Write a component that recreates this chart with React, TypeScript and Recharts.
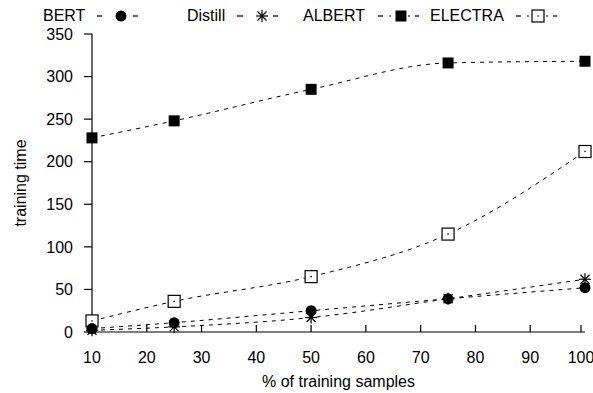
import React from 'react';
import { LineChart, Line, XAxis, YAxis } from 'recharts';

const samples = [10, 25, 50, 75, 100];
const bert = [4, 11, 25, 39, 52];
const distill = [2, 6, 17, 39, 62];
const albert = [228, 248, 285, 316, 318];
const electra = [13, 36, 65, 115, 212];

const xTicks = [10, 20, 30, 40, 50, 60, 70, 80, 90, 100];
const yTicks = [0, 50, 100, 150, 200, 250, 300, 350];

const data = samples.map((s, i) => ({
  pct: s,
  bert: bert[i],
  distill: distill[i],
  albert: albert[i],
  electra: electra[i],
}));

const FONT = '"Liberation Sans", Arial, sans-serif';
const FS = 16;

function Circle({ cx, cy }: any) {
  return <circle cx={cx} cy={cy} r={5.5} fill="#000" />;
}

function Star({ cx, cy }: any) {
  const r = 6;
  return (
    <g stroke="#000" strokeWidth={1.2}>
      <line x1={cx - r} y1={cy} x2={cx + r} y2={cy} />
      <line x1={cx} y1={cy - r} x2={cx} y2={cy + r} />
      <line x1={cx - r * 0.75} y1={cy - r * 0.75} x2={cx + r * 0.75} y2={cy + r * 0.75} />
      <line x1={cx - r * 0.75} y1={cy + r * 0.75} x2={cx + r * 0.75} y2={cy - r * 0.75} />
    </g>
  );
}

function FilledSquare({ cx, cy }: any) {
  return <rect x={cx - 5.5} y={cy - 5.5} width={11} height={11} fill="#000" />;
}

function OpenSquare({ cx, cy }: any) {
  return (
    <g>
      <rect x={cx - 6} y={cy - 6} width={12} height={12} fill="#fff" stroke="#000" strokeWidth={1.2} />
      <circle cx={cx} cy={cy} r={0.8} fill="#000" />
    </g>
  );
}

function XTick({ x, y, payload }: any) {
  return (
    <g>
      <line x1={x} y1={y} x2={x} y2={y - 7} stroke="#000" strokeWidth={1.2} />
      <text x={x} y={y + 31} textAnchor="middle" fontSize={FS} fontFamily={FONT} fill="#000">
        {payload.value}
      </text>
    </g>
  );
}

// short dash segments of the gnuplot-style key sample
function Dashes({ segs, y }: { segs: [number, number][]; y: number }) {
  return (
    <g stroke="#000" strokeWidth={1.2}>
      {segs.map(([a, b], i) => (
        <line key={i} x1={a} y1={y} x2={b} y2={y} />
      ))}
    </g>
  );
}

function ChartLegend() {
  const ty = 21;
  const my = 16;
  return (
    <svg width={593} height={30} style={{ position: 'absolute', left: 0, top: 0 }}>
      <g fontFamily={FONT} fontSize={FS} fill="#000">
        <text x={43} y={ty}>BERT</text>
        <text x={187} y={ty}>Distill</text>
        <text x={303} y={ty}>ALBERT</text>
        <text x={430} y={ty}>ELECTRA</text>
      </g>
      <Dashes y={my} segs={[[97, 102], [133, 138]]} />
      <Circle cx={121} cy={my} />
      <Dashes y={my} segs={[[237, 243], [273, 278]]} />
      <Star cx={262} cy={my} />
      <Dashes y={my} segs={[[378, 383], [389, 391], [408, 410], [415, 419]]} />
      <FilledSquare cx={401} cy={my} />
      <Dashes y={my} segs={[[516, 521], [527, 529], [546, 548], [553, 557]]} />
      <OpenSquare cx={538} cy={my} />
    </svg>
  );
}

export default function App() {
  return (
    <div style={{ position: 'absolute', left: 0, top: 0, width: 593, height: 393, background: '#fff' }}>
      <LineChart width={593} height={393} data={data} margin={{ top: 34, right: 8, left: 0, bottom: 0 }}>
        <XAxis
          dataKey="pct"
          type="number"
          domain={[10, 100]}
          ticks={xTicks}
          tickLine={false}
          tickSize={0}
          tickMargin={0}
          tick={<XTick />}
          axisLine={{ stroke: '#000', strokeWidth: 1.2 }}
          height={61}
          label={{ value: '% of training samples', position: 'insideBottom', offset: 6, fontSize: FS, fontFamily: FONT, fill: '#000' }}
        />
        <XAxis xAxisId="top" orientation="top" dataKey="pct" type="number" domain={[10, 100]} tick={false} tickLine={false} height={0} axisLine={{ stroke: '#000', strokeWidth: 1.2 }} />
        <YAxis
          type="number"
          domain={[0, 350]}
          ticks={yTicks}
          width={92}
          tickSize={8}
          tickMargin={11}
          tickLine={{ stroke: '#000', strokeWidth: 1.2 }}
          axisLine={{ stroke: '#000', strokeWidth: 1.2 }}
          tick={{ fontSize: FS, fontFamily: FONT, fill: '#000' }}
          label={{ value: 'training time', angle: -90, position: 'insideLeft', offset: 20, fontSize: FS, fontFamily: FONT, fill: '#000', style: { textAnchor: 'middle' } }}
        />
        <YAxis yAxisId="right" orientation="right" domain={[0, 350]} tick={false} tickLine={false} width={0} axisLine={{ stroke: '#000', strokeWidth: 1.2 }} />
        <Line type="monotone" dataKey="albert" stroke="#000" strokeWidth={1} strokeDasharray="4 5" dot={<FilledSquare />} isAnimationActive={false} />
        <Line type="monotone" dataKey="electra" stroke="#000" strokeWidth={1} strokeDasharray="4 5" dot={<OpenSquare />} isAnimationActive={false} />
        <Line type="monotone" dataKey="distill" stroke="#000" strokeWidth={1} strokeDasharray="4 5" dot={<Star />} isAnimationActive={false} />
        <Line type="monotone" dataKey="bert" stroke="#000" strokeWidth={1} strokeDasharray="4 5" dot={<Circle />} isAnimationActive={false} />
      </LineChart>
      <ChartLegend />
    </div>
  );
}
